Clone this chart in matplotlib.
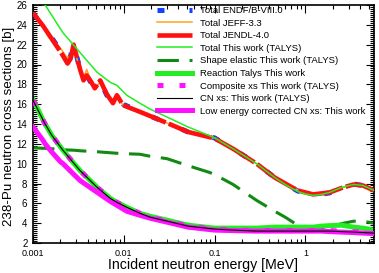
"""
238-Pu neutron cross sections: evaluations vs TALYS calculation.
Saves: out.png
"""

import matplotlib
matplotlib.use("Agg")
import matplotlib.pyplot as plt
from matplotlib.ticker import FixedLocator, MultipleLocator, NullFormatter

plt.rcParams["font.family"] = ["Liberation Sans", "DejaVu Sans"]

# ── data (energies in MeV, cross sections in b) ──────────────────────────────
e_eval = [0.001, 0.00129, 0.0015, 0.00175, 0.0021, 0.0024, 0.0026, 0.0028,
          0.0033, 0.0036, 0.0039, 0.0044, 0.0048, 0.0055, 0.0065, 0.0076,
          0.0084, 0.0098, 0.0163, 0.03, 0.051, 0.1, 0.16, 0.29, 0.46, 0.82,
          1.22, 1.85, 2.6, 3.4, 4.3, 5.7]
xs_endf = [25.2, 23.8, 23.1, 22.2, 21.1, 20.2, 20.9, 22.2, 19.4, 18.4, 18.9,
           18.1, 17.6, 18.3, 16.9, 16.2, 16.8, 16.0, 15.1, 14.1, 13.2, 12.6,
           11.5, 10.0, 8.6, 7.25, 6.8, 7.05, 7.6, 7.95, 7.8, 7.2]
xs_jeff = [25.2, 23.9, 22.7, 22.3, 21.4, 20.6, 21.0, 21.6, 19.6, 18.6, 19.5,
           18.3, 17.7, 18.2, 16.9, 16.3, 16.8, 15.9, 15.1, 14.1, 13.25, 12.6,
           11.5, 10.0, 8.65, 7.35, 6.95, 7.15, 7.6, 7.95, 7.8, 7.3]
xs_jendl = [25.2, 23.9, 23.0, 22.1, 21.0, 20.1, 20.6, 22.0, 19.5, 18.4, 18.9,
            18.2, 17.6, 18.4, 17.0, 16.1, 16.9, 15.9, 15.1, 14.1, 13.2, 12.55,
            11.5, 10.0, 8.6, 7.3, 6.9, 7.1, 7.6, 7.9, 7.8, 7.3]

e_talys = [0.001, 0.00129, 0.00136, 0.0016, 0.002, 0.00214, 0.0029, 0.0033,
           0.0051, 0.0071, 0.0084, 0.0108, 0.015, 0.0195, 0.03, 0.051, 0.089,
           0.1, 0.16, 0.29, 0.46, 0.6, 0.82, 1.0, 1.22, 1.5, 1.85, 2.5, 3.4,
           4.3, 5.7]
xs_total = [27.8, 26.4, 26.0, 25.0, 23.6, 23.2, 21.8, 21.2, 19.2, 18.2, 17.9,
            16.9, 16.1, 15.5, 14.7, 13.7, 12.8, 12.6, 11.5, 10.0, 8.6, 7.9,
            7.2, 6.95, 6.8, 6.9, 7.1, 7.6, 7.9, 7.8, 7.3]
xs_shape = [11.6, 11.55, 11.55, 11.5, 11.45, 11.4, 11.35, 11.3, 11.2, 11.1,
            11.05, 11.0, 10.95, 10.75, 10.5, 9.8, 9.1, 8.9, 7.9, 6.3, 5.2,
            4.6, 3.8, 3.45, 3.3, 3.35, 3.6, 3.95, 4.2, 4.2, 4.0]
xs_reac = [16.5, 14.4, 14.0, 12.9, 11.7, 11.35, 9.9, 9.3, 7.6, 6.5, 6.1, 5.6,
           5.0, 4.7, 4.3, 3.8, 3.55, 3.5, 3.5, 3.5, 3.6, 3.6, 3.6, 3.6, 3.6,
           3.7, 3.75, 3.8, 3.6, 3.5, 3.3]
xs_comp = [16.4, 14.4, 14.0, 12.9, 11.7, 11.35, 9.9, 9.3, 7.6, 6.5, 6.1, 5.6,
           5.0, 4.6, 4.2, 3.7, 3.45, 3.4, 3.3, 3.25, 3.25, 3.25, 3.25, 3.25,
           3.25, 3.25, 3.25, 3.2, 3.15, 3.1, 3.0]
xs_cn = [16.4, 14.4, 14.0, 12.9, 11.7, 11.35, 9.9, 9.3, 7.6, 6.5, 6.1, 5.6,
         5.0, 4.6, 4.2, 3.7, 3.45, 3.4, 3.3, 3.2, 3.2, 3.2, 3.2, 3.2, 3.2,
         3.2, 3.2, 3.15, 3.1, 3.05, 3.0]
xs_lecn = [13.7, 12.35, 12.0, 11.2, 10.2, 10.0, 8.8, 8.3, 7.1, 6.2, 5.8, 5.2,
           4.8, 4.5, 4.1, 3.6, 3.35, 3.3, 3.25, 3.2, 3.2, 3.2, 3.2, 3.2, 3.2,
           3.2, 3.15, 3.1, 3.05, 3.0, 2.95]

x_ticks = [0.001, 0.01, 0.1, 1]
x_tick_labels = ["0.001", "0.01", "0.1", "1"]
y_ticks = list(range(2, 27, 2))

# ── figure ───────────────────────────────────────────────────────────────────
fig = plt.figure(figsize=(3.79, 2.73), dpi=100)
ax = fig.add_axes([33 / 379, 1 - 243 / 273, 341 / 379, 238 / 273])

BLUE = "#1440ff"
ORANGE = "#ffa31a"
RED = "#ff1010"
LIME = "#22ee22"
DKGREEN = "#128a12"
MAGENTA = "#ff10ff"

ax.plot(e_eval, xs_endf, color=BLUE, lw=3.6, dashes=(1.4, 5),
        label="Total ENDF/B-VIII.0", zorder=2)
ax.plot(e_eval, xs_jeff, color=ORANGE, lw=1.1,
        label="Total JEFF-3.3", zorder=3)
ax.plot(e_eval, xs_jendl, color=RED, lw=3.3, dashes=(10, 0.7),
        label="Total JENDL-4.0", zorder=3)
ax.plot(e_talys, xs_total, color=LIME, lw=1.1,
        label="Total This work (TALYS)", zorder=4)
ax.plot(e_talys, xs_shape, color=DKGREEN, lw=2.2, dashes=(7, 3.5),
        label="Shape elastic This work (TALYS)", zorder=2)
ax.plot(e_talys, xs_reac, color=LIME, lw=3.6,
        label="Reaction Talys This work", zorder=2)
ax.plot(e_talys, xs_comp, color=MAGENTA, lw=3.6, dashes=(1.2, 3.2),
        label="Composite xs This work (TALYS)", zorder=3)
ax.plot(e_talys, xs_cn, color="black", lw=0.8,
        label="CN xs: This work (TALYS)", zorder=4)
ax.plot(e_talys, xs_lecn, color=MAGENTA, lw=3.6,
        label="Low energy corrected CN xs: This work", zorder=3)

# ── axes, ROOT-like ticks ────────────────────────────────────────────────────
ax.set_xscale("log")
ax.set_xlim(0.001, 5.7)
ax.set_ylim(2, 26)
ax.xaxis.set_major_locator(FixedLocator(x_ticks))
ax.set_xticklabels(x_tick_labels)
ax.xaxis.set_minor_formatter(NullFormatter())
ax.yaxis.set_major_locator(FixedLocator(y_ticks))
ax.yaxis.set_minor_locator(MultipleLocator(0.2))
ax.tick_params(which="both", direction="in", top=True, right=True,
               width=0.8, color="black")
ax.tick_params(which="major", length=6)
ax.tick_params(which="minor", length=3)
ax.tick_params(axis="x", labelsize=6.5, pad=4)
ax.tick_params(axis="y", labelsize=7, pad=4)
for s in ax.spines.values():
    s.set_linewidth(1.2)

ax.set_xlabel("Incident neutron energy [MeV]", fontsize=10.2, labelpad=0)
ax.set_ylabel("238-Pu neutron cross sections [b]", fontsize=9.6)
ax.yaxis.set_label_coords(-0.054, 0.49)

ax.legend(loc="upper left", bbox_to_anchor=(157 / 379, 267 / 273),
          bbox_transform=fig.transFigure, frameon=False, fontsize=6.8,
          handlelength=3.7, handletextpad=0.85, labelspacing=0.38,
          borderpad=0, borderaxespad=0)

fig.savefig("out.png", dpi=100)
